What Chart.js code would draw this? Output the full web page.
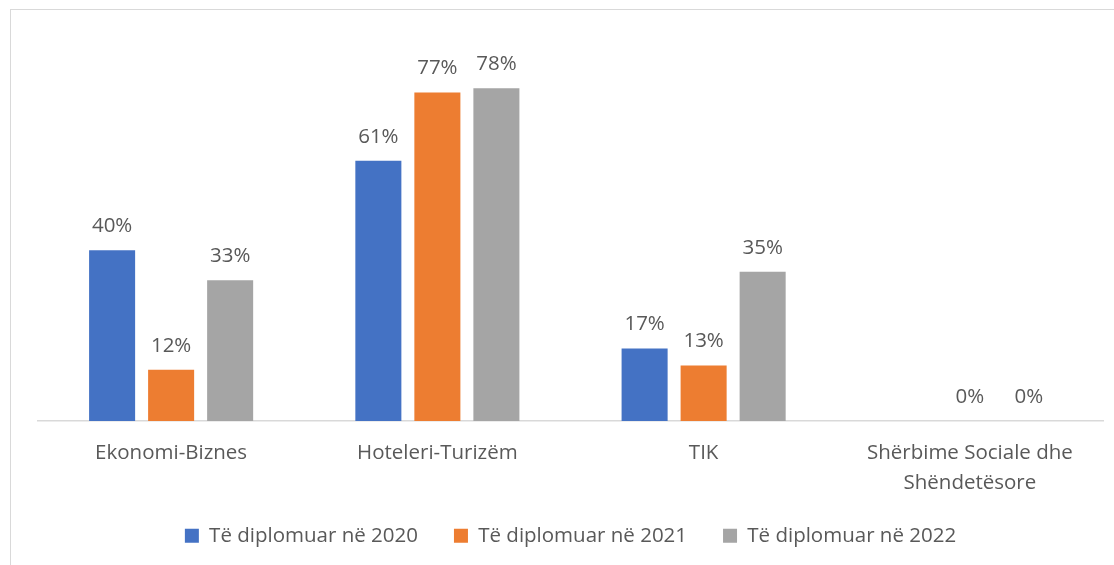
<!DOCTYPE html>
<html>
<head>
<meta charset="utf-8">
<script src="https://cdn.jsdelivr.net/npm/chart.js@4"></script>
<style>
  body { margin: 0; background: #fff; overflow: hidden; }
  #box {
    position: absolute; left: 10px; top: 9px;
    width: 1103px; height: 560px;
    border-left: 1px solid #d9d9d9; border-top: 1px solid #d9d9d9;
  }
</style>
</head>
<body>
<div id="box"><canvas id="myChart" width="1103" height="546"></canvas></div>
<script>
// categories and series (percent)
const categories = ['Ekonomi-Biznes', 'Hoteleri-Turizëm', 'TIK', ['Shërbime Sociale dhe', 'Shëndetësore']];
const seriesNames = ['Të diplomuar në 2020', 'Të diplomuar në 2021', 'Të diplomuar në 2022'];
const values2020 = [40, 61, 17, null];
const values2021 = [12, 77, 13, 0];
const values2022 = [33, 78, 35, 0];
const colors = ['#4472C4', '#ED7D31', '#A5A5A5'];

const textColor = '#595959';
const fontFamily = '"Open Sans", sans-serif';

// draw the value labels above every bar
const valueLabels = {
    id: 'valueLabels',
    afterDatasetsDraw(chart) {
        const ctx = chart.ctx;
        ctx.save();
        ctx.font = '20.5px ' + fontFamily;
        ctx.fillStyle = textColor;
        ctx.textAlign = 'center';
        ctx.textBaseline = 'middle';
        chart.data.datasets.forEach((ds, i) => {
            const meta = chart.getDatasetMeta(i);
            meta.data.forEach((bar, j) => {
                const v = ds.data[j];
                if (v === null || v === undefined) return;
                ctx.fillText(v + '%', bar.x, bar.y - 24);
            });
        });
        ctx.restore();
    }
};

const ctx = document.getElementById('myChart').getContext('2d');
const myChart = new Chart(ctx, {
    type: 'bar',
    data: {
        labels: categories,
        datasets: [values2020, values2021, values2022].map((d, i) => ({
            label: seriesNames[i],
            data: d,
            backgroundColor: colors[i],
            categoryPercentage: 0.665,
            barPercentage: 0.78
        }))
    },
    options: {
        responsive: false,
        animation: false,
        layout: { padding: { left: 27, right: 11, top: 27, bottom: 0 } },
        scales: {
            x: {
                grid: { display: false, drawTicks: false },
                border: { display: true, color: '#d9d9d9', width: 1.5 },
                ticks: {
                    color: textColor,
                    padding: 16.5,
                    font: { family: fontFamily, size: 20.5, lineHeight: 1.5 }
                },
                afterFit: (scale) => { scale.height = 68.5; }
            },
            y: {
                display: false,
                min: 0,
                max: 90
            }
        },
        plugins: {
            legend: {
                position: 'bottom',
                labels: {
                    color: textColor,
                    boxWidth: 14,
                    boxHeight: 14,
                    padding: 36,
                    font: { family: fontFamily, size: 20.5 }
                }
            },
            tooltip: { enabled: false }
        }
    },
    plugins: [valueLabels]
});
</script>
</body>
</html>
